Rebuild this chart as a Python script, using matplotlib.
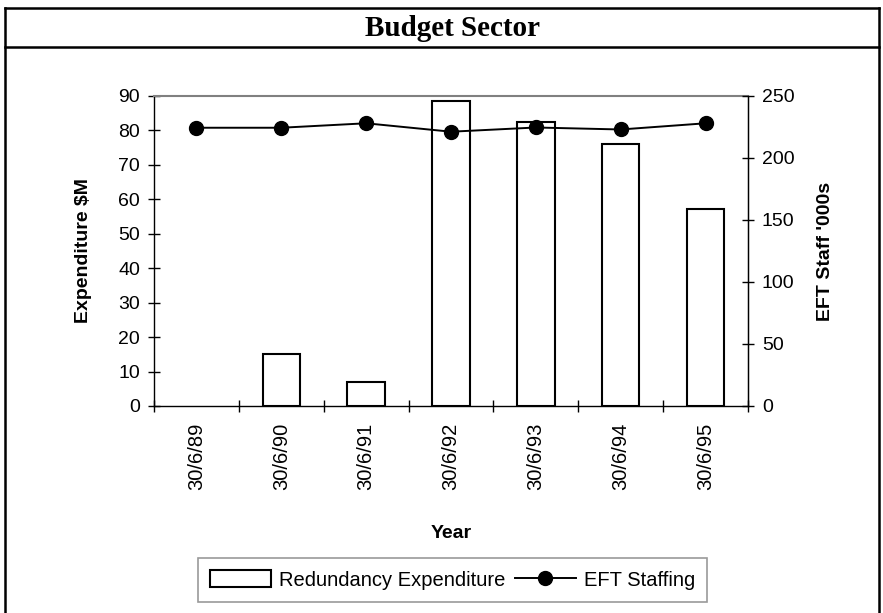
import matplotlib
matplotlib.use("Agg")
import matplotlib.pyplot as plt
from matplotlib.lines import Line2D
import numpy as np

categories = ["30/6/89", "30/6/90", "30/6/91", "30/6/92", "30/6/93", "30/6/94", "30/6/95"]
expenditure = [0, 15.2, 7.0, 88.5, 82.4, 76.2, 57.1]
staffing = [224.4, 224.4, 228.0, 221.2, 224.6, 223.0, 228.0]
left_ticks = [0, 10, 20, 30, 40, 50, 60, 70, 80, 90]
right_ticks = [0, 50, 100, 150, 200, 250]

W, H = 883, 613
fig = plt.figure(figsize=(W / 100, H / 100), dpi=100)
plt.rcParams['font.family'] = ['Liberation Sans', 'DejaVu Sans']

L, R, T, B = 154, 748, 96, 406
ax = fig.add_axes([L / W, 1 - B / H, (R - L) / W, (B - T) / H])
x = np.arange(len(categories))

# a zero-valued bar is not drawn in the original
heights = [v if v > 0 else np.nan for v in expenditure]
ax.bar(x, heights, width=0.44, color='white', edgecolor='black', linewidth=1.5,
       label='Redundancy Expenditure', zorder=2)
ax.set_xlim(-0.5, len(categories) - 0.5)
ax.set_ylim(0, 90)
ax.set_yticks(left_ticks)
ax.set_xticks(np.arange(-0.5, len(categories)), labels=[''] * (len(categories) + 1))
ax.set_xticks(x, labels=categories, minor=True, rotation=90)
ax.tick_params(axis='x', which='major', direction='inout', length=8, width=1, color='black')
ax.tick_params(axis='x', which='minor', length=0, pad=12, labelsize=14.5)
ax.tick_params(axis='y', direction='inout', length=8, width=1, labelsize=14, pad=6)

for s in ['left', 'bottom', 'right']:
    ax.spines[s].set_color('black')
    ax.spines[s].set_linewidth(1)
ax.spines['top'].set_color('#808080')
ax.spines['top'].set_linewidth(1.5)

ax2 = ax.twinx()
ax2.plot(x, staffing, color='black', linewidth=1.4, marker='o', markersize=10,
         label='EFT Staffing', zorder=3)
ax2.set_ylim(0, 250)
ax2.set_yticks(right_ticks)
ax2.tick_params(axis='y', direction='inout', length=8, width=1, labelsize=14, pad=6)
ax2.spines['top'].set_visible(False)
ax2.spines['left'].set_visible(False)
ax2.spines['bottom'].set_visible(False)
ax2.spines['right'].set_color('black')

ax.set_ylabel('Expenditure $M', fontsize=14, fontweight='bold')
ax.yaxis.label.set_va('center')
ax.yaxis.set_label_coords((83 - L) / (R - L), 0.5)
ax2.set_ylabel("EFT Staff '000s", fontsize=14, fontweight='bold')
ax2.yaxis.label.set_va('center')
ax2.yaxis.set_label_coords((826 - L) / (R - L), 0.5)
ax.set_xlabel('Year', fontsize=14, fontweight='bold')
ax.xaxis.label.set_va('center')
ax.xaxis.set_label_coords(0.5, (B - 533) / (B - T))

h1, l1 = ax.get_legend_handles_labels()
h2, l2 = ax2.get_legend_handles_labels()
leg = fig.legend(h1 + h2, l1 + l2, loc='center', ncol=2,
                 bbox_to_anchor=(452.5 / W, 1 - 580 / H), fontsize=14.5,
                 frameon=True, fancybox=False, edgecolor='#808080',
                 handlelength=3.0, handleheight=0.85, columnspacing=0.5,
                 handletextpad=0.4, borderpad=0.6)
leg.get_frame().set_linewidth(1.2)

# Title box frame
fx = lambda px: px / W
fy = lambda py: 1 - py / H
lw = 1.8
fig.add_artist(Line2D([fx(5), fx(5)], [fy(8), fy(H + 5)], color='black', lw=lw))
fig.add_artist(Line2D([fx(5), fx(879)], [fy(8), fy(8)], color='black', lw=lw))
fig.add_artist(Line2D([fx(879), fx(879)], [fy(8), fy(H + 5)], color='black', lw=lw))
fig.add_artist(Line2D([fx(5), fx(879)], [fy(47), fy(47)], color='black', lw=lw))
fig.text(fx(452), fy(28), 'Budget Sector', ha='center', va='center',
         fontsize=21, fontweight='bold', family=['Liberation Serif', 'DejaVu Serif'])

fig.savefig('out.png', dpi=100)
